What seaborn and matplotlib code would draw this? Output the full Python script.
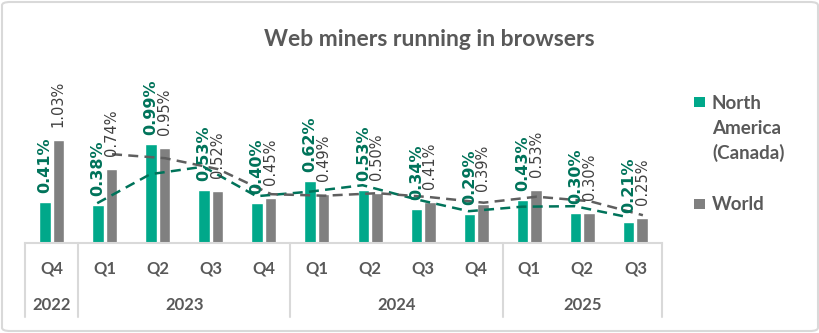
import numpy as np
import pandas as pd
import matplotlib
matplotlib.use("Agg")
import matplotlib.pyplot as plt
import matplotlib.transforms as mtransforms
from matplotlib.patches import FancyBboxPatch, Rectangle
import seaborn as sns

# ---- data ----
quarters = ["Q4", "Q1", "Q2", "Q3", "Q4", "Q1", "Q2", "Q3", "Q4", "Q1", "Q2", "Q3"]
years = ["2022", "2023", "2023", "2023", "2023", "2024", "2024", "2024", "2024", "2025", "2025", "2025"]
year_labels = ["2022", "2023", "2024", "2025"]
north_america = [0.41, 0.38, 0.99, 0.53, 0.40, 0.62, 0.53, 0.34, 0.29, 0.43, 0.30, 0.21]
world = [1.03, 0.74, 0.95, 0.52, 0.45, 0.49, 0.50, 0.41, 0.39, 0.53, 0.30, 0.25]
series_names = ["North America (Canada)", "World"]

TEAL = "#00A88A"
GRAY = "#808080"
TEAL_DARK = "#00735A"
TEXT_GRAY = "#595959"
LINE_GRAY = "#D9D9D9"

periods = [f"{q} {y}" for q, y in zip(quarters, years)]
df = pd.DataFrame({
    "period": periods * 2,
    "series": [series_names[0]] * len(periods) + [series_names[1]] * len(periods),
    "value": north_america + world,
})

sns.set_theme(style="white")
plt.rcParams["font.family"] = ["DejaVu Sans"]

W, H = 820, 333
fig = plt.figure(figsize=(W / 100, H / 100), dpi=100)
ax_left, ax_right = 25 / W, 662 / W
ax_bottom = (H - 242.7) / H
ax_h = 120 / H
ax = fig.add_axes([ax_left, ax_bottom, ax_right - ax_left, ax_h])

sns.barplot(data=df, x="period", y="value", hue="series", order=periods,
            hue_order=series_names, palette=[TEAL, GRAY], width=0.51, gap=0.15,
            saturation=1, ax=ax, legend=False, errorbar=None)

ax.set_ylim(0, 1.2)
ax.set_xlim(-0.5, len(periods) - 0.5)
ax.set_xlabel("")
ax.set_ylabel("")
ax.set_xticks([])
ax.set_yticks([])
for s in ["top", "right", "left"]:
    ax.spines[s].set_visible(False)
ax.spines["bottom"].set_color(LINE_GRAY)
ax.spines["bottom"].set_linewidth(1.5)

# data labels
for ci, cont in enumerate(ax.containers):
    for bar in cont:
        h = bar.get_height()
        xc = bar.get_x() + bar.get_width() / 2
        if ci == 0:
            ax.annotate(f"{h:.2f}%", (xc, h), xytext=(0, 6.5), textcoords="offset points",
                        rotation=90, ha="center", va="bottom", fontsize=11.5,
                        fontweight="bold", color=TEAL_DARK, annotation_clip=False)
        else:
            ax.annotate(f"{h:.2f}%", (xc, h), xytext=(0, 9.5), textcoords="offset points",
                        rotation=90, ha="center", va="bottom", fontsize=10.5,
                        color="#404040", annotation_clip=False)

# moving-average trend lines (2 periods)
na_ma = pd.Series(north_america).rolling(2).mean()
w_ma = pd.Series(world).rolling(2).mean()
xs = np.arange(len(periods))
off = 0.14
ax.plot(xs[1:] - off, na_ma[1:], color=TEAL_DARK, lw=1.8, dashes=(4, 2.5), clip_on=False)
ax.plot(xs[1:] + off, w_ma[1:], color="#5F5F5F", lw=1.8, dashes=(4, 2.5), clip_on=False)

# category axis (two levels)
tr = mtransforms.blended_transform_factory(ax.transData, fig.transFigure)
axis_font = ["Lato", "DejaVu Sans"]
for i, q in enumerate(quarters):
    ax.text(i, (H - 268) / H, q, transform=tr, ha="center", va="center",
            fontsize=12, color=TEXT_GRAY, fontweight="bold", family=axis_font)
bounds = [-0.5]
for i in range(1, len(years)):
    if years[i] != years[i - 1]:
        bounds.append(i - 0.5)
bounds.append(len(years) - 0.5)
for b in bounds:
    ax.plot([b, b], [(H - 243) / H, (H - 317) / H], transform=tr, color=LINE_GRAY,
            lw=1.5, clip_on=False)
for k, yl in enumerate(year_labels):
    c = (bounds[k] + bounds[k + 1]) / 2
    ax.text(c, (H - 305) / H, yl, transform=tr, ha="center", va="center",
            fontsize=12, color=TEXT_GRAY, fontweight="bold", family=axis_font)

# title
fig.text(429 / W, 1 - 40 / H, "Web miners running in browsers", ha="center", va="center",
         fontsize=16.5, fontweight="bold", color=TEXT_GRAY, family=axis_font)

# legend
fig.patches.append(Rectangle((694 / W, 1 - 107 / H), 11 / W, 10 / H, transform=fig.transFigure,
                             facecolor=TEAL, edgecolor="none"))
fig.patches.append(Rectangle((694 / W, 1 - 209 / H), 11 / W, 10 / H, transform=fig.transFigure,
                             facecolor=GRAY, edgecolor="none"))
for txt, yb in [("North", 109), ("America", 134), ("(Canada)", 159), ("World", 210)]:
    fig.text(712 / W, 1 - yb / H, txt, ha="left", va="baseline", fontsize=13.5,
             fontweight="bold", color=TEXT_GRAY, family=axis_font)

# chart border
fig.patches.append(FancyBboxPatch((2 / W, 2 / H), 1 - 4 / W, 1 - 4 / H,
                                  boxstyle="round,pad=0,rounding_size=0.01",
                                  transform=fig.transFigure, facecolor="none",
                                  edgecolor=LINE_GRAY, lw=1.5))

fig.savefig("out.png", dpi=100)
